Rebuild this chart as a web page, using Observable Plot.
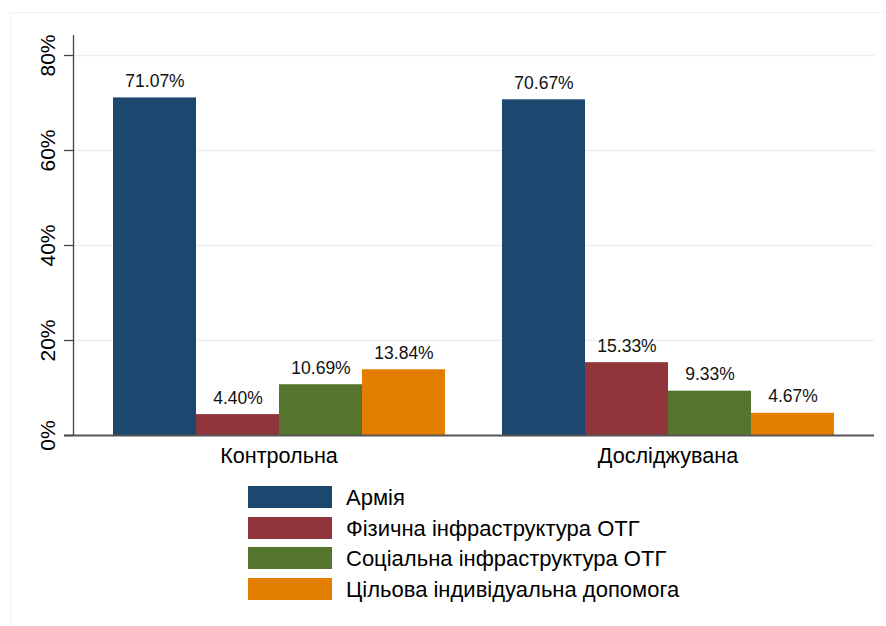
<!DOCTYPE html>
<html>
<head>
<meta charset="utf-8">
<script src="https://cdn.jsdelivr.net/npm/d3@7"></script>
<script src="https://cdn.jsdelivr.net/npm/@observablehq/plot@0.6"></script>
<style>
  html, body { margin: 0; padding: 0; background: #fff; }
  body { width: 886px; height: 626px; position: relative; overflow: hidden;
         font-family: "Liberation Sans", Arial, sans-serif; }
  #frame { position: absolute; left: 10px; top: 12px; width: 900px; height: 700px;
           border-left: 1px solid #f1f3f3; border-top: 1px solid #f1f3f3; }
  .layer { position: absolute; left: 0; top: 0; }
  .layer svg { background: transparent !important; }
  #legend { position: absolute; left: 248px; top: 486px; }
  .row { display: flex; align-items: center; height: 22px; margin-bottom: 8.6px; }
  .sw { width: 84px; height: 22px; box-sizing: border-box; }
  .lab { margin-left: 14px; font-size: 22px; line-height: 22px; color: #000; white-space: nowrap; position: relative; top: 1px; }
</style>
</head>
<body>
<div id="frame"></div>
<div id="grid" class="layer"></div>
<div id="bars" class="layer"></div>
<div id="axes" class="layer"></div>
<div id="legend"></div>
<script>
// ---- data ----
const groups = ["Контрольна", "Досліджувана"];
const series = ["Армія", "Фізична інфраструктура ОТГ", "Соціальна інфраструктура ОТГ", "Цільова індивідуальна допомога"];
const valuesControl = [71.07, 4.40, 10.69, 13.84];
const valuesStudy = [70.67, 15.33, 9.33, 4.67];
const colors = ["#1c476e", "#90353b", "#55752f", "#e37e00"];
const yTicks = [0, 20, 40, 60, 80];

const data = [];
series.forEach((s, i) => {
  data.push({group: groups[0], series: s, value: valuesControl[i]});
  data.push({group: groups[1], series: s, value: valuesStudy[i]});
});

const font = "Liberation Sans, Arial, sans-serif";
const base = {
  width: 886,
  height: 475,
  marginLeft: 73,
  marginRight: 12,
  marginTop: 35,
  marginBottom: 40,
  style: {fontFamily: font, background: "transparent", color: "#000"},
  y: {domain: [0, 84.21], axis: null}
};

// background: grid lines
const grid = Plot.plot({
  ...base,
  x: {domain: [0, 1], axis: null},
  marks: [
    Plot.ruleY(yTicks.filter(t => t > 0), {stroke: "#e9f0f1", strokeWidth: 1.6})
  ]
});
document.getElementById("grid").appendChild(grid);

// bars, value labels, group labels
const bars = Plot.plot({
  ...base,
  fx: {domain: groups, paddingInner: 0.1438, paddingOuter: 0.1004, axis: null, label: null},
  x: {domain: series, padding: 0, axis: null},
  color: {domain: series, range: colors},
  marks: [
    Plot.barY(data, {fx: "group", x: "series", y: "value", fill: "series"}),
    Plot.text(data, {fx: "group", x: "series", y: "value", text: d => d.value.toFixed(2) + "%",
      lineAnchor: "bottom", dy: -11, fontSize: 17.5, fill: "#111"}),
    Plot.text(groups, {fx: d => d, text: d => d, frameAnchor: "bottom", lineAnchor: "top",
      dy: 12, fontSize: 21.6, fill: "#000"})
  ]
});
document.getElementById("bars").appendChild(bars);

// axes on top
const axes = Plot.plot({
  ...base,
  x: {domain: [0, 1], axis: null},
  marks: [
    Plot.ruleY([0], {stroke: "#555", strokeWidth: 2, insetLeft: -9}),
    Plot.ruleX([0], {stroke: "#444", strokeWidth: 1.3}),
    Plot.axisY({ticks: yTicks, tickSize: 9, tickFormat: () => "", stroke: "#444", strokeWidth: 1.3, label: null}),
    Plot.text(yTicks, {y: d => d, text: d => d + "%", frameAnchor: "left", dx: -25, rotate: -90,
      textAnchor: "middle", lineAnchor: "middle", fontSize: 21, fill: "#000"})
  ]
});
document.getElementById("axes").appendChild(axes);

const legend = document.getElementById("legend");
series.forEach((s, i) => {
  const row = document.createElement("div");
  row.className = "row";
  const sw = document.createElement("div");
  sw.className = "sw";
  sw.style.background = colors[i];
  const lab = document.createElement("div");
  lab.className = "lab";
  lab.textContent = s;
  row.appendChild(sw);
  row.appendChild(lab);
  legend.appendChild(row);
});
</script>
</body>
</html>
